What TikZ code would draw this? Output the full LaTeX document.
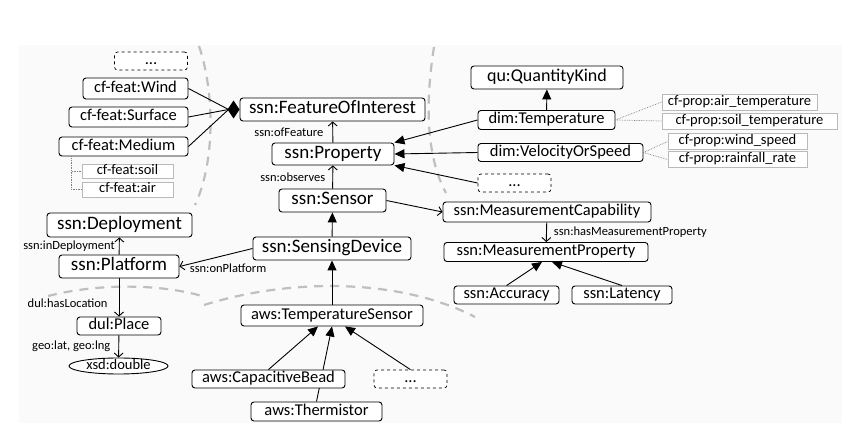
\documentclass[tikz,border=0pt]{standalone}
\usepackage{fontspec}
\setmainfont{Carlito}
\usetikzlibrary{positioning,calc,arrows.meta,shapes.geometric,backgrounds}

\begin{document}
\begin{tikzpicture}[x=1pt,y=-1pt,
	cls/.style={draw, line width=0.9pt, rounded corners=3pt, fill=white, inner xsep=7pt, inner ysep=0pt, minimum height=23pt, text height=13pt, text depth=4pt, font=\fontsize{19}{20}\selectfont},
	sub/.style={cls, minimum height=19pt, text height=11.5pt, text depth=3.5pt, font=\fontsize{16.5}{18}\selectfont},
	more/.style={sub, dashed, line width=0.7pt, minimum width=73pt, minimum height=18pt},
	inst/.style={draw=gray!55, line width=0.8pt, fill=white, inner xsep=5pt, inner ysep=0pt, minimum height=16pt, text height=10pt, text depth=3pt, font=\fontsize{14.5}{15}\selectfont},
	lbl/.style={inner sep=1pt, font=\fontsize{12.5}{13}\selectfont},
	rel/.style={line width=0.9pt, -{Straight Barb[length=4pt,width=9pt]}},
	isa/.style={line width=0.9pt, -{Triangle[length=10pt,width=9pt]}},
	inlink/.style={gray, densely dotted, line width=0.7pt},
	zone/.style={gray!50, line width=2.2pt, dash pattern=on 9pt off 7pt}
	]
	\useasboundingbox (0,0) rectangle (868,443);
	
	% ---- features of interest (left top) ----
	\node[more] (dotsF) at (151,61) {...};
	\node[sub, minimum width=105pt, minimum height=21pt] (wind) at (135.5,88.5) {cf-feat:Wind};
	\node[sub, minimum width=119pt, minimum height=20pt] (surf) at (128.5,117) {cf-feat:Surface};
	\node[sub, minimum width=129pt] (med) at (123.5,146.5) {cf-feat:Medium};
	\node[inst, minimum width=91pt, minimum height=14pt] (soil) at (127.5,171.5) {cf-feat:soil};
	\node[inst, minimum width=91pt, minimum height=15pt] (air) at (127.5,189.5) {cf-feat:air};
	
	% ---- core ssn classes ----
	\node[cls, minimum width=185pt] (foi) at (332.5,109.5) {ssn:FeatureOfInterest};
	\node[cls, minimum width=122pt, minimum height=22pt] (prop) at (333,154) {ssn:Property};
	\node[cls, minimum width=107pt] (sensor) at (332.5,200.5) {ssn:Sensor};
	\node[cls, minimum width=158pt] (sd) at (332,248.5) {ssn:SensingDevice};
	\node[cls, minimum width=145pt, minimum height=24pt] (depl) at (119.5,225) {ssn:Deployment};
	\node[cls, minimum width=120pt] (plat) at (119,266.5) {ssn:Platform};
	
	% ---- properties (right top) ----
	\node[cls, minimum width=152pt, font=\fontsize{18}{19}\selectfont] (qk) at (547,77.5) {qu:QuantityKind};
	\node[sub, minimum width=137pt] (temp) at (546.5,120) {dim:Temperature};
	\node[sub, minimum width=165pt, minimum height=18pt] (velo) at (560.5,152.5) {dim:VelocityOrSpeed};
	\node[more] (dotsP) at (514.5,183) {...};
	\node[inst, minimum width=155pt] (airT) at (739.5,102) {cf-prop:air\_temperature};
	\node[inst, minimum width=175pt] (soilT) at (749.5,121) {cf-prop:soil\_temperature};
	\node[inst, minimum width=139pt] (windS) at (737.5,141.5) {cf-prop:wind\_speed};
	\node[inst, minimum width=139pt] (rain) at (737.5,159.5) {cf-prop:rainfall\_rate};
	
	% ---- measurement capability ----
	\node[sub, minimum width=208pt, minimum height=20pt] (mc) at (547,212) {ssn:MeasurementCapability};
	\node[sub, minimum width=204pt] (mp) at (546,252) {ssn:MeasurementProperty};
	\node[sub, minimum width=105pt, minimum height=18pt] (acc) at (506.5,295) {ssn:Accuracy};
	\node[sub, minimum width=100pt, minimum height=18pt] (lat) at (622,295) {ssn:Latency};
	
	% ---- location ----
	\node[sub, minimum width=84pt, minimum height=18pt] (place) at (119,326) {dul:Place};
	\node[draw, ellipse, line width=0.9pt, fill=white, inner sep=0pt, minimum width=99pt, minimum height=16pt, text height=9pt, text depth=2pt, font=\fontsize{14.5}{15}\selectfont] (dbl) at (118.5,366) {xsd:double};
	
	% ---- aws sensors (bottom) ----
	\node[sub, minimum width=182pt, minimum height=21pt] (ts) at (332,315.5) {aws:TemperatureSensor};
	\node[sub, minimum width=153pt, minimum height=18pt] (cap) at (268.5,379) {aws:CapacitiveBead};
	\node[sub, minimum width=131pt] (therm) at (316.5,411.5) {aws:Thermistor};
	\node[more] (dotsS) at (410.5,379) {...};
	
	% background panel, zone borders, hidden link
	\begin{scope}[on background layer]
		\fill[black!2] (19,45) rectangle (842,423);
		\draw[zone] (199,46) .. controls (214,90) and (216,160) .. (195,205);
		\draw[zone] (434,47) .. controls (424,110) and (428,160) .. (446,193);
		\draw[zone] (48,296) .. controls (100,283) and (160,284) .. (202,296);
		\draw[zone] (204,305) .. controls (290,278) and (400,278) .. (475,317);
		\draw[isa] (therm.north) -- (ts.south);
	\end{scope}
	
	% aggregation into FeatureOfInterest
	\coordinate (agg) at ($(foi.west)+(-11,0)$);
	\draw[line width=0.9pt] (wind.east) -- (agg);
	\draw[line width=0.9pt] (surf.east) -- (agg);
	\draw[line width=0.9pt] (med.east) -- (agg);
	\fill (foi.west) -- ++(-6,-9) -- ++(-6,9) -- ++(6,9) -- cycle;
	
	% instances
	\draw[inlink] ([xshift=13pt]med.south west) |- (soil.west);
	\draw[inlink] ([xshift=13pt]med.south west) |- (air.west);
	\draw[inlink] (temp.east) -- (airT.west);
	\draw[inlink] (temp.east) -- (soilT.west);
	\draw[inlink] (velo.east) -- (windS.west);
	\draw[inlink] (velo.east) -- (rain.west);
	
	% relations
	\draw[rel] (prop) -- node[lbl, left=8pt] {ssn:ofFeature} (foi);
	\draw[rel] (sensor) -- node[lbl, left=6pt] {ssn:observes} (prop);
	\draw[rel] (sensor.east) -- (mc.west);
	\draw[rel] (mc) -- node[lbl, right=6pt] {ssn:hasMeasurementProperty} (mp);
	\draw[rel] (sd.west) -- (plat.east) node[lbl, at end, anchor=west, xshift=9pt, yshift=-2pt] {ssn:onPlatform};
	\draw[rel] (plat) -- node[lbl, left=3pt] {ssn:inDeployment} (depl);
	\draw[rel] (plat) -- node[lbl, left=10pt, pos=0.65] {dul:hasLocation} (place);
	\draw[rel] (place) -- node[lbl, left=7pt] {geo:lat, geo:lng} (dbl);
	
	% subclass links
	\draw[isa] (temp) -- (qk);
	\draw[isa] (temp.west) -- (prop.north east);
	\draw[isa] (velo.west) -- (prop.east);
	\draw[isa] (dotsP.west) -- (prop.south east);
	\draw[isa] (sd) -- (sensor);
	\draw[isa] (ts) -- (sd);
	\draw[isa] (acc.north) -- ($(mp.south)+(-4,0)$);
	\draw[isa] (lat.north) -- ($(mp.south)+(6,0)$);
	\draw[isa] (cap.north) -- ($(ts.south)+(-14,0)$);
	\draw[isa] (dotsS.north) -- ($(ts.south)+(13,0)$);
\end{tikzpicture}
\end{document}
